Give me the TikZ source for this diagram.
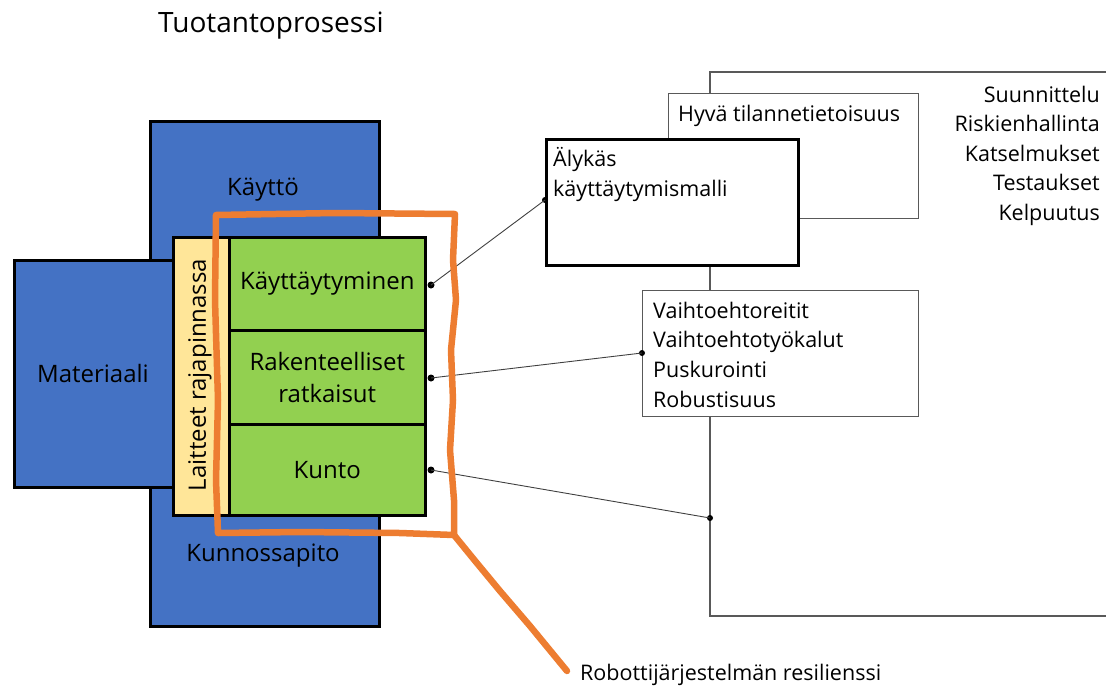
\documentclass[tikz,border=0pt]{standalone}
\usepackage{fontspec}
\setmainfont{Open Sans}
\begin{document}
\begin{tikzpicture}[x=1pt,y=-1pt,
  bluebox/.style={draw=black,line width=2.6pt,fill=blockblue,anchor=north west,inner sep=0pt},
  greenbox/.style={draw=black,line width=2.6pt,fill=leafgreen,anchor=north west,inner sep=0pt,
    minimum width=196pt,align=center,font=\fontsize{24}{32}\selectfont},
  thinbox/.style={draw=framegray,line width=1.2pt,fill=white,anchor=north west,inner sep=0pt},
  lbl/.style={inner sep=0pt,font=\fontsize{24}{30}\selectfont},
  small/.style={inner sep=0pt,font=\fontsize{21.5}{29.5}\selectfont},
  link/.style={draw=linkgray,line width=0.9pt},
  pin/.style={fill=black,circle,inner sep=0pt,minimum size=7pt},
  halo/.style={draw=haloorange,line width=6.5pt,line join=round,line cap=round}
]
\definecolor{blockblue}{HTML}{4472C4}
\definecolor{leafgreen}{HTML}{92D050}
\definecolor{sand}{HTML}{FFE699}
\definecolor{haloorange}{HTML}{ED7D31}
\definecolor{framegray}{HTML}{595959}
\definecolor{linkgray}{HTML}{404040}

\useasboundingbox (0,0) rectangle (1106,686);

% title
\node[inner sep=0pt,anchor=base west,font=\fontsize{28}{34}\selectfont] (title) at (158,32) {Tuotantoprosessi};

% left column of blocks
\node[bluebox,minimum width=229pt,minimum height=505pt] (kaytto) at (149,120) {};
\node[bluebox,minimum width=200pt,minimum height=227pt] (materiaali) at (13,259) {};
\node[draw=black,line width=2.6pt,fill=sand,anchor=north west,inner sep=0pt,
      minimum width=56pt,minimum height=278pt] (laitteet) at (172,236) {};
\node[greenbox,minimum height=93pt] (kayt) at (228,236) {Käyttäytyminen};
\node[greenbox,minimum height=94pt] (rak) at (228,329) {Rakenteelliset\\ratkaisut};
\node[greenbox,minimum height=91pt] (kunto) at (228,423) {Kunto};

\node[lbl] (tkaytto) at (263,190) {Käyttö};
\node[lbl] (tkunnossa) at (263,556) {Kunnossapito};
\node[lbl] (tmat) at (93,373) {Materiaali};
\node[lbl,rotate=90] (tlait) at (200,375) {Laitteet rajapinnassa};

% right side: frame and boxes
\coordinate (ftop) at (1106,72);
\coordinate (fnw) at (710,72);
\coordinate (fsw) at (710,616);
\coordinate (fbot) at (1106,616);
\draw[framegray,line width=1.2pt] (ftop) -- (fnw) -- (fsw) -- (fbot);

\node[thinbox,minimum width=250pt,minimum height=125pt] (hyva) at (668,93) {};
\node[small,anchor=base west] (thyva) at (678,121) {Hyvä tilannetietoisuus};

\node[draw=black,line width=3.2pt,fill=white,anchor=north west,inner sep=0pt,
      minimum width=252pt,minimum height=126pt] (alykas) at (545,138) {};
\node[small,anchor=base west] (talykas1) at (553,166) {Älykäs};
\node[small,anchor=base west] (talykas2) at (553,196) {käyttäytymismalli};

\node[thinbox,minimum width=276pt,minimum height=126pt] (vaihto) at (642,290) {};
\foreach \t [count=\i from 0] in {Vaihtoehtoreitit,Vaihtoehtotyökalut,Puskurointi,Robustisuus}
  \node[small,anchor=base west] (tvaihto\i) at (653,318+29.7*\i) {\t};

\foreach \t [count=\i from 0] in {Suunnittelu,Riskienhallinta,Katselmukset,Testaukset,Kelpuutus}
  \node[small,anchor=base east] (lista\i) at (1100,102+29.5*\i) {\t};

% connectors
\node[pin] (p1) at (431,285) {};
\node[pin] (p2) at (431,378) {};
\node[pin] (p3) at (431,470) {};
\coordinate (q1) at (alykas.west |- 0,200);
\coordinate (q2) at (642,353);
\coordinate (q3) at (710,518);
\node[pin,minimum size=6pt] (e1) at (q1) {};
\node[pin,minimum size=6pt] (e2) at (q2) {};
\node[pin,minimum size=6pt] (e3) at (q3) {};
\draw[link] (p1.center) -- (e1.center);
\draw[link] (p2.center) -- (e2.center);
\draw[link] (p3.center) -- (e3.center);

% hand-drawn boundary of the resilience scope
\draw[halo] (216,215) -- (335,213) -- (455,214) -- (453,260) -- (456,300) -- (451,350)
  -- (453,400) -- (450,450) -- (454,500) -- (454,535) -- (400,533) -- (300,532)
  -- (218,533) -- (216,480) -- (218,400) -- (215,300) -- cycle;
\coordinate (tailend) at (567,671);
\draw[halo] (454,535) -- (476,562) -- (500,591) -- (530,626) -- (tailend);
\node[small,anchor=base west] (tres) at (580,680) {Robottijärjestelmän resilienssi};
\end{tikzpicture}
\end{document}
